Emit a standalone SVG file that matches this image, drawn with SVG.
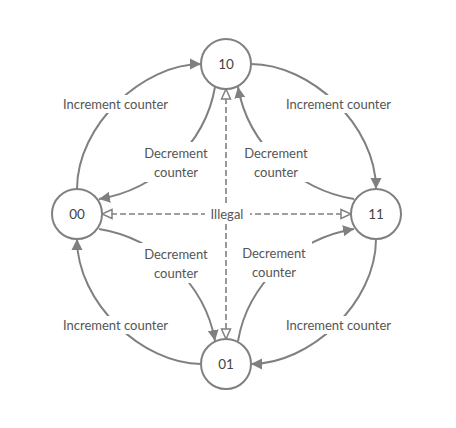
<svg xmlns="http://www.w3.org/2000/svg" width="456" height="428" viewBox="0 0 456 428">
<style>
.node circle{fill:#fff;stroke:#808080;stroke-width:2}
.node text{font-family:Lato,"Liberation Sans",sans-serif;font-size:13.5px;fill:#444;text-anchor:middle;dominant-baseline:central}
.edge{fill:none;stroke:#808080;stroke-width:2}
.solid{marker-end:url(#fa)}
.dash{stroke-dasharray:6,3;stroke-width:1.6;marker-start:url(#oa);marker-end:url(#oa)}
.lbl{font-family:Lato,"Liberation Sans",sans-serif;font-size:13px;fill:#555;text-anchor:middle;dominant-baseline:central}
.bg{fill:#fff}
</style>
<defs>
<marker id="fa" markerUnits="userSpaceOnUse" markerWidth="12" markerHeight="12" viewBox="0 0 12 12" refX="11" refY="6" orient="auto">
<path d="M0,0.5 L11,6 L0,11.5 z" fill="#808080"/>
</marker>
<marker id="oa" markerUnits="userSpaceOnUse" markerWidth="12" markerHeight="12" viewBox="0 0 12 12" refX="11" refY="6" orient="auto-start-reverse">
<path d="M1,1.5 L11,6 L1,10.5 z" fill="#fff" stroke="#808080" stroke-width="1.5"/>
</marker>
</defs>
<g id="connectors">
<path class="edge solid" d="M77,189 C77,125 143,64 201,64"/>
<path class="edge solid" d="M251,64 C310,64 376,125 376,189"/>
<path class="edge solid" d="M376,239 C376,303 310,364 251,364"/>
<path class="edge solid" d="M201,364 C143,364 77,303 77,239"/>
<path class="edge solid" d="M215,87 C205,145 155,190 99,199"/>
<path class="edge solid" d="M354,199 C298,190 248,145 238,87"/>
<path class="edge solid" d="M99,229 C155,238 205,283 215,341"/>
<path class="edge solid" d="M238,341 C248,283 298,238 354,229"/>
<path class="edge dash" d="M226,89 L226,339"/>
<path class="edge dash" d="M102,214 L351,214"/>
<g id="labels">
<rect class="bg" x="57" y="95" width="117" height="18"/>
<text class="lbl" x="115.5" y="104">Increment counter</text>
<rect class="bg" x="280" y="95" width="117" height="18"/>
<text class="lbl" x="338.5" y="104">Increment counter</text>
<rect class="bg" x="57" y="316" width="117" height="18"/>
<text class="lbl" x="115.5" y="325">Increment counter</text>
<rect class="bg" x="280" y="316" width="117" height="18"/>
<text class="lbl" x="338.5" y="325">Increment counter</text>
<rect class="bg" x="138" y="142" width="76" height="40"/>
<text class="lbl" x="176" y="153">Decrement</text>
<text class="lbl" x="176" y="172">counter</text>
<rect class="bg" x="238" y="142" width="76" height="40"/>
<text class="lbl" x="276" y="153">Decrement</text>
<text class="lbl" x="276" y="172">counter</text>
<rect class="bg" x="138" y="243" width="76" height="40"/>
<text class="lbl" x="176" y="254">Decrement</text>
<text class="lbl" x="176" y="273">counter</text>
<rect class="bg" x="236" y="242" width="76" height="40"/>
<text class="lbl" x="274" y="253">Decrement</text>
<text class="lbl" x="274" y="272">counter</text>
<rect class="bg" x="205" y="205" width="45" height="18"/>
<text class="lbl" x="227" y="214">Illegal</text>
</g>
</g>
<g id="n10" class="node"><circle cx="226" cy="64" r="25"/><text x="226" y="64">10</text></g>
<g id="n00" class="node"><circle cx="77" cy="214" r="25"/><text x="77" y="214">00</text></g>
<g id="n11" class="node"><circle cx="376" cy="214" r="25"/><text x="376" y="214">11</text></g>
<g id="n01" class="node"><circle cx="226" cy="364" r="25"/><text x="226" y="364">01</text></g>
</svg>
